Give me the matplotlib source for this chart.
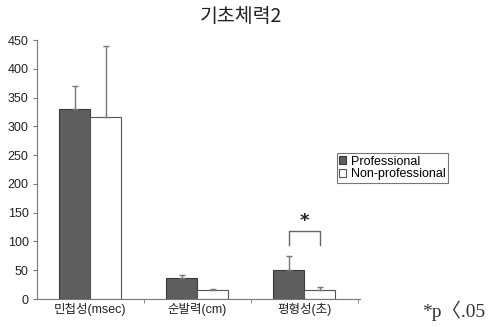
import matplotlib.pyplot as plt
import numpy as np

plt.rcParams['font.family'] = ['Liberation Sans', 'Noto Sans CJK KR', 'DejaVu Sans']

categories = ['민첩성(msec)', '순발력(cm)', '평형성(초)']
pro = [330, 37, 50]
pro_err = [40, 4.5, 25]
nonpro = [316, 15.6, 15.6]
nonpro_err = [124, 2.5, 4.5]
yticks = [0, 50, 100, 150, 200, 250, 300, 350, 400, 450]

fig = plt.figure(figsize=(4.88, 3.27), dpi=100)
ax = fig.add_axes([0.0758, 0.0856, 0.662, 0.792])

x = np.arange(len(categories))
w = 0.29
ax.bar(x - w / 2, pro, w, color='#5e5e5e', edgecolor='#3a3a3a', linewidth=0.8,
       yerr=[np.zeros(3), pro_err], error_kw=dict(ecolor='#777777', elinewidth=1, capsize=2.5, capthick=1),
       label='Professional')
ax.bar(x + w / 2, nonpro, w, color='white', edgecolor='#555555', linewidth=0.8,
       yerr=[np.zeros(3), nonpro_err], error_kw=dict(ecolor='#777777', elinewidth=1, capsize=2.5, capthick=1),
       label='Non-professional')

# significance bracket
ax.plot([2 - w / 2, 2 - w / 2, 2 + w / 2, 2 + w / 2], [93, 118, 118, 93], color='#666666', lw=1)
ax.text(2, 136, '*', ha='center', va='center', fontsize=13, fontweight='bold',
        family='DejaVu Sans', color='#222222')

ax.set_xlim(-0.5, 2.52)
ax.set_ylim(0, 450)
ax.set_yticks(yticks)
ax.set_xticks(x)
ax.set_xticklabels(categories)
ax.set_xticks([0.5, 1.5, 2.5], minor=True)
ax.tick_params(axis='x', which='major', length=0, labelsize=9, pad=3, labelcolor='#222222')
ax.tick_params(axis='x', which='minor', length=3, direction='out', color='#777777')
ax.tick_params(axis='y', length=3, direction='out', color='#777777', labelsize=9, pad=3,
               labelcolor='#222222')
for s in ['top', 'right']:
    ax.spines[s].set_visible(False)
for s in ['left', 'bottom']:
    ax.spines[s].set_color('#777777')

fig.text(0.494, 0.95, '기초체력2', ha='center', va='center', fontsize=14, color='#222222',
         family=['Noto Sans CJK KR', 'DejaVu Sans'])

leg = fig.legend(loc='upper left', bbox_to_anchor=(0.69, 0.532), fontsize=9,
                 frameon=True, fancybox=False, edgecolor='#555555',
                 handlelength=0.55, handleheight=0.55, handletextpad=0.4,
                 borderpad=0.2, labelspacing=0.05, borderaxespad=0)
leg.get_frame().set_linewidth(0.8)

fig.text(0.995, 0.05, '*p〈.05', ha='right', va='center', fontsize=14,
         family=['Liberation Serif', 'Noto Sans CJK KR'], color='#333333')

fig.savefig('out.png', dpi=100)
